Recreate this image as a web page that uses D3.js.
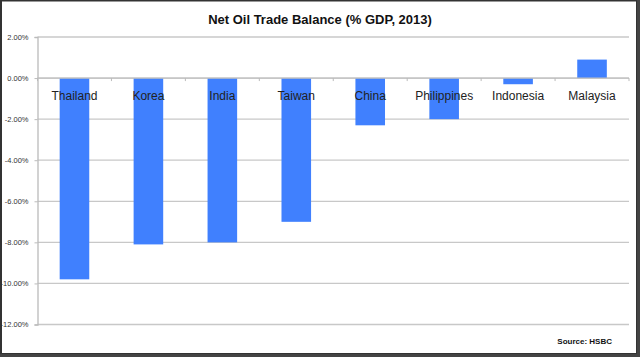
<!DOCTYPE html>
<html><head><meta charset="utf-8">
<script src="https://cdn.jsdelivr.net/npm/d3@7"></script>
<style>body{margin:0;background:#fff}svg{display:block}</style>
</head><body>
<script>
const categories = ["Thailand","Korea","India","Taiwan","China","Philippines","Indonesia","Malaysia"];
const values = [-9.8,-8.1,-8.0,-7.0,-2.3,-2.0,-0.3,0.9];
const yTicks = [2,0,-2,-4,-6,-8,-10,-12];
const title = "Net Oil Trade Balance (% GDP, 2013)";
const source = "Source: HSBC";

const W=640,H=357;
const svg=d3.select("body").append("svg").attr("width",W).attr("height",H);
svg.append("rect").attr("width",W).attr("height",H).attr("fill","#fff");

const x=d3.scaleBand().domain(categories).range([37.5,629]).paddingInner(0.6).paddingOuter(0.3);
const xb=d3.scaleBand().domain(categories).range([37.5,629]);
const y=d3.scaleLinear().domain([-12,2]).range([324.5,37]);

// gridlines
svg.append("g").selectAll("line").data(yTicks).join("line")
  .attr("x1",37.5).attr("x2",629).attr("y1",d=>y(d)).attr("y2",d=>y(d))
  .attr("stroke","#c8c8c8").attr("stroke-width",1.3);

// y axis
const ya=svg.append("g").attr("transform","translate(37.5,0)")
  .call(d3.axisLeft(y).tickValues(yTicks).tickSize(3).tickFormat(d=>d.toFixed(2)+"%"));
ya.select(".domain").attr("stroke","#bbb").attr("stroke-width",1.3);
ya.selectAll(".tick line").attr("stroke","#bbb");
ya.selectAll("text").attr("font-family","Liberation Sans, Arial, sans-serif").attr("font-size",7.5).attr("fill","#333").attr("dx",-3);

// bars
svg.append("g").selectAll("rect").data(values).join("rect")
  .attr("x",(d,i)=>x(categories[i])).attr("width",x.bandwidth())
  .attr("y",d=>y(Math.max(0,d))).attr("height",d=>Math.abs(y(d)-y(0)))
  .attr("fill","#4080fe");

// zero axis with ticks
const xa=svg.append("g").attr("transform",`translate(0,${y(0)})`);
xa.append("line").attr("x1",37.5).attr("x2",629).attr("stroke","#c0c0c0").attr("stroke-width",1.3);
xa.selectAll("line.t").data(categories.concat(["_end"])).join("line").attr("class","t")
  .attr("x1",(d,i)=>i<categories.length?xb(d):629).attr("x2",(d,i)=>i<categories.length?xb(d):629)
  .attr("y1",0).attr("y2",3).attr("stroke","#bbb");

// category labels
svg.append("g").selectAll("text").data(categories).join("text")
  .attr("x",d=>xb(d)+xb.bandwidth()/2).attr("y",100)
  .attr("text-anchor","middle").attr("font-family","Liberation Sans, Arial, sans-serif")
  .attr("font-size",12).attr("fill","#222").text(d=>d);

// title
svg.append("text").attr("x",320).attr("y",24).attr("text-anchor","middle")
  .attr("font-family","Liberation Sans, Arial, sans-serif").attr("font-weight","bold")
  .attr("font-size",13).attr("fill","#111").text(title);

// source
svg.append("text").attr("x",612).attr("y",344).attr("text-anchor","end")
  .attr("font-family","Liberation Sans, Arial, sans-serif").attr("font-weight","bold")
  .attr("font-size",8).attr("fill","#111").text(source);

// frame
svg.append("rect").attr("x",1).attr("y",0.5).attr("width",636).attr("height",353.5)
  .attr("fill","none").attr("stroke","#333").attr("stroke-width",2);
svg.append("rect").attr("x",637).attr("y",0).attr("width",3).attr("height",H).attr("fill","#444");
svg.append("rect").attr("x",0).attr("y",354).attr("width",W).attr("height",3).attr("fill","#444");
</script>
</body></html>
